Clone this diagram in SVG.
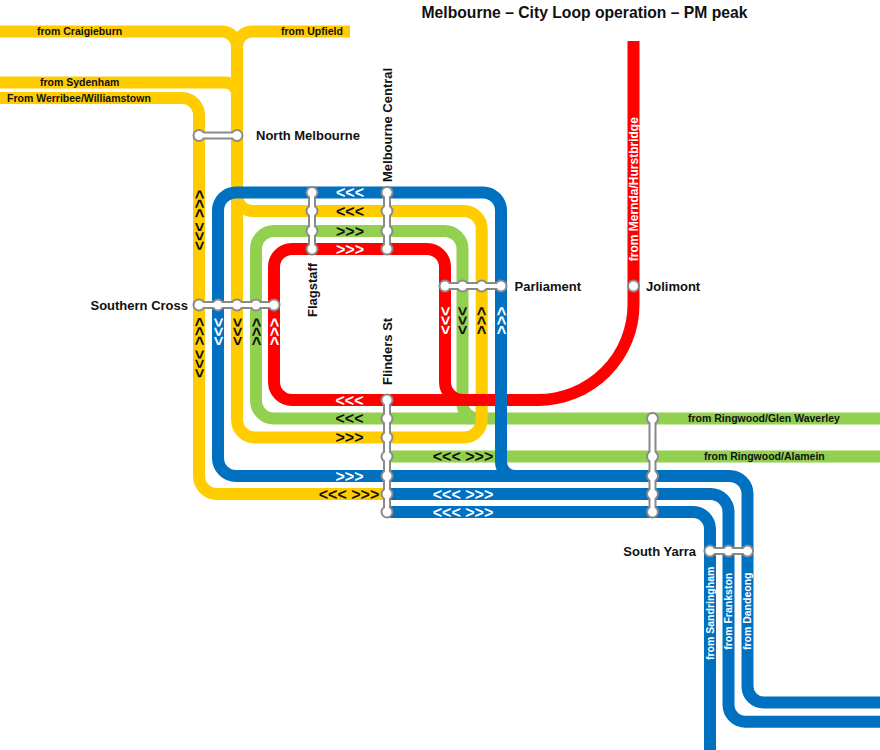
<svg xmlns="http://www.w3.org/2000/svg" width="880" height="750" viewBox="0 0 880 750">
<style>
.ln{fill:none;stroke-width:12;stroke-linecap:butt;stroke-linejoin:round}
.y{stroke:#FFCC00}.b{stroke:#0070C0}.g{stroke:#92D050}.r{stroke:#FF0000}
.so{fill:none;stroke:#8a8a8a;stroke-width:8;stroke-linecap:round}
.si{fill:none;stroke:#fff;stroke-width:4;stroke-linecap:round}
.sc{fill:#fff;stroke:#8a8a8a;stroke-width:2}
text{font-family:"Liberation Sans",Arial,sans-serif;font-weight:bold}
.st{font-size:13px;fill:#111}
.ll{font-size:10.5px;fill:#111}
.lw{font-size:10.5px;fill:#fff;text-anchor:middle}
.ar{font-size:16px;text-anchor:middle}
.w{fill:#fff}.k{fill:#111}
.title{font-size:15.7px;fill:#111;text-anchor:middle}
</style>
<rect width="880" height="750" fill="#fff"/>
<text class="title" x="584.5" y="17.5">Melbourne – City Loop operation – PM peak</text>

<g id="connectors">
  <g id="green-lines">
    <path class="ln g" d="M880,418.5 H274 A18,18 0 0 1 256,400.5 V249 A18,18 0 0 1 274,231 H444.5 A18,18 0 0 1 462.5,249 V403.5 A15,15 0 0 0 477.5,418.5"/>
    <path class="ln g" d="M387,456.5 H880"/>
  </g>
  <g id="yellow-lines">
    <path class="ln y" d="M0,31.5 H222 A15,15 0 0 1 237,46.5"/>
    <path class="ln y" d="M350,31.5 H252 A15,15 0 0 0 237,46.5"/>
    <path class="ln y" d="M0,82.5 H225 A12,12 0 0 1 237,94.5"/>
    <path class="ln y" d="M237,46.5 V419.5 A18,18 0 0 0 255,437.5 H463.7 A18,18 0 0 0 481.7,419.5 V229 A18,18 0 0 0 463.7,211 H252 A15,15 0 0 1 237,196"/>
    <path class="ln y" d="M0,98 H182 A17,17 0 0 1 199,115 V476 A18,18 0 0 0 217,494 H387"/>
  </g>
  <g id="red-lines">
    <path class="ln r" d="M633.5,41 V304.5 A95.5,95.5 0 0 1 538,400 H292 A18,18 0 0 1 274,382 V267 A18,18 0 0 1 292,249 H427 A18,18 0 0 1 445,267 V382 A18,18 0 0 0 463,400 H540"/>
  </g>
  <g id="blue-lines">
    <path class="ln b" d="M880,702.5 H763.5 A16,16 0 0 1 747.5,686.5 V494 A18,18 0 0 0 729.5,476 H236 A18,18 0 0 1 218,458 V210.5 A18,18 0 0 1 236,192.5 H483 A18,18 0 0 1 501,210.5 V462 A14,14 0 0 0 515,476"/>
    <path class="ln b" d="M387,494 H710.5 A18,18 0 0 1 728.5,512 V704.7 A17,17 0 0 0 745.5,721.7 H880"/>
    <path class="ln b" d="M387,512 H693 A17,17 0 0 1 710,529 V750"/>
  </g>
</g>

<g id="line-labels">
  <text class="ll" x="37" y="35.3">from Craigieburn</text>
  <text class="ll" x="281" y="35.3">from Upfield</text>
  <text class="ll" x="40" y="86.3">from Sydenham</text>
  <text class="ll" x="7" y="101.8">From Werribee/Williamstown</text>
  <text class="ll" x="688" y="422.3">from Ringwood/Glen Waverley</text>
  <text class="ll" x="704" y="460.3">from Ringwood/Alamein</text>
  <text class="lw" style="font-size:12px" transform="translate(637.5,189.2) rotate(-90)">from Mernda/Hurstbridge</text>
  <text class="lw" transform="translate(713.6,613.3) rotate(-90)">from Sandringham</text>
  <text class="lw" transform="translate(732.1,611.3) rotate(-90)">from Frankston</text>
  <text class="lw" transform="translate(751.1,611.3) rotate(-90)">from Dandeong</text>
</g>

<g id="direction-arrows">
  <text class="ar w" x="350" y="198">&lt;&lt;&lt;</text>
  <text class="ar k" x="350" y="216.5">&lt;&lt;&lt;</text>
  <text class="ar k" x="350" y="236.5">&gt;&gt;&gt;</text>
  <text class="ar w" x="350" y="254.5">&gt;&gt;&gt;</text>
  <text class="ar w" x="349.5" y="405.5">&lt;&lt;&lt;</text>
  <text class="ar k" x="349.5" y="424">&lt;&lt;&lt;</text>
  <text class="ar k" x="349.5" y="443">&gt;&gt;&gt;</text>
  <text class="ar w" x="349.5" y="481.5">&gt;&gt;&gt;</text>
  <text class="ar k" x="349" y="499.5">&lt;&lt;&lt; &gt;&gt;&gt;</text>
  <text class="ar k" x="463" y="462">&lt;&lt;&lt; &gt;&gt;&gt;</text>
  <text class="ar w" x="463" y="499.5">&lt;&lt;&lt; &gt;&gt;&gt;</text>
  <text class="ar w" x="463" y="517.5">&lt;&lt;&lt; &gt;&gt;&gt;</text>
  <text class="ar k" transform="translate(193.6,220) rotate(90)">&lt;&lt;&lt; &gt;&gt;&gt;</text>
  <text class="ar k" transform="translate(193.6,347.5) rotate(90)">&lt;&lt;&lt; &gt;&gt;&gt;</text>
  <text class="ar w" transform="translate(212.6,331.7) rotate(90)">&gt;&gt;&gt;</text>
  <text class="ar k" transform="translate(231.6,331.7) rotate(90)">&gt;&gt;&gt;</text>
  <text class="ar k" transform="translate(250.6,331.7) rotate(90)">&lt;&lt;&lt;</text>
  <text class="ar w" transform="translate(268.6,331.7) rotate(90)">&lt;&lt;&lt;</text>
  <text class="ar w" transform="translate(439.6,320.5) rotate(90)">&gt;&gt;&gt;</text>
  <text class="ar k" transform="translate(457.1,320.5) rotate(90)">&gt;&gt;&gt;</text>
  <text class="ar k" transform="translate(476.3,320.5) rotate(90)">&lt;&lt;&lt;</text>
  <text class="ar w" transform="translate(495.6,320.5) rotate(90)">&lt;&lt;&lt;</text>
</g>

<g id="north-melbourne">
  <path class="so" d="M199,135.5 H237"/>
  <circle class="sc" cx="199" cy="135.5" r="5.5"/><circle class="sc" cx="237" cy="135.5" r="5.5"/>
  <path class="si" d="M199,135.5 H237"/>
  <text class="st" x="256" y="140.2">North Melbourne</text>
</g>
<g id="southern-cross">
  <path class="so" d="M199,305 H274"/>
  <circle class="sc" cx="199" cy="305" r="5.5"/><circle class="sc" cx="218" cy="305" r="5.5"/><circle class="sc" cx="237" cy="305" r="5.5"/><circle class="sc" cx="256" cy="305" r="5.5"/><circle class="sc" cx="274" cy="305" r="5.5"/>
  <path class="si" d="M199,305 H274"/>
  <text class="st" x="188" y="309.7" text-anchor="end">Southern Cross</text>
</g>
<g id="flagstaff">
  <path class="so" d="M312,192.5 V249"/>
  <circle class="sc" cx="312" cy="192.5" r="5.5"/><circle class="sc" cx="312" cy="211" r="5.5"/><circle class="sc" cx="312" cy="231" r="5.5"/><circle class="sc" cx="312" cy="249" r="5.5"/>
  <path class="si" d="M312,192.5 V249"/>
  <text class="st" transform="translate(316.6,317) rotate(-90)">Flagstaff</text>
</g>
<g id="melbourne-central">
  <path class="so" d="M387,192.5 V249"/>
  <circle class="sc" cx="387" cy="192.5" r="5.5"/><circle class="sc" cx="387" cy="211" r="5.5"/><circle class="sc" cx="387" cy="231" r="5.5"/><circle class="sc" cx="387" cy="249" r="5.5"/>
  <path class="si" d="M387,192.5 V249"/>
  <text class="st" transform="translate(391.7,182) rotate(-90)">Melbourne Central</text>
</g>
<g id="parliament">
  <path class="so" d="M445,286 H501"/>
  <circle class="sc" cx="445" cy="286" r="5.5"/><circle class="sc" cx="462.5" cy="286" r="5.5"/><circle class="sc" cx="481.7" cy="286" r="5.5"/><circle class="sc" cx="501" cy="286" r="5.5"/>
  <path class="si" d="M445,286 H501"/>
  <text class="st" x="514.5" y="290.7">Parliament</text>
</g>
<g id="flinders-st">
  <path class="so" d="M387,400 V512"/>
  <circle class="sc" cx="387" cy="400" r="5.5"/><circle class="sc" cx="387" cy="418.5" r="5.5"/><circle class="sc" cx="387" cy="437.5" r="5.5"/><circle class="sc" cx="387" cy="456.5" r="5.5"/><circle class="sc" cx="387" cy="476" r="5.5"/><circle class="sc" cx="387" cy="494" r="5.5"/><circle class="sc" cx="387" cy="512" r="5.5"/>
  <path class="si" d="M387,400 V512"/>
  <text class="st" transform="translate(391.7,385) rotate(-90)">Flinders St</text>
</g>
<g id="richmond">
  <path class="so" d="M652.5,418.5 V512"/>
  <circle class="sc" cx="652.5" cy="418.5" r="5.5"/><circle class="sc" cx="652.5" cy="456.5" r="5.5"/><circle class="sc" cx="652.5" cy="476" r="5.5"/><circle class="sc" cx="652.5" cy="494" r="5.5"/><circle class="sc" cx="652.5" cy="512" r="5.5"/>
  <path class="si" d="M652.5,418.5 V512"/>
</g>
<g id="jolimont">
  <circle class="sc" cx="633.5" cy="286" r="5.5"/>
  <text class="st" x="646" y="290.7">Jolimont</text>
</g>
<g id="south-yarra">
  <path class="so" d="M710,551 H747.5"/>
  <circle class="sc" cx="710" cy="551" r="5.5"/><circle class="sc" cx="728.5" cy="551" r="5.5"/><circle class="sc" cx="747.5" cy="551" r="5.5"/>
  <path class="si" d="M710,551 H747.5"/>
  <text class="st" x="696" y="555.7" text-anchor="end">South Yarra</text>
</g>
</svg>
